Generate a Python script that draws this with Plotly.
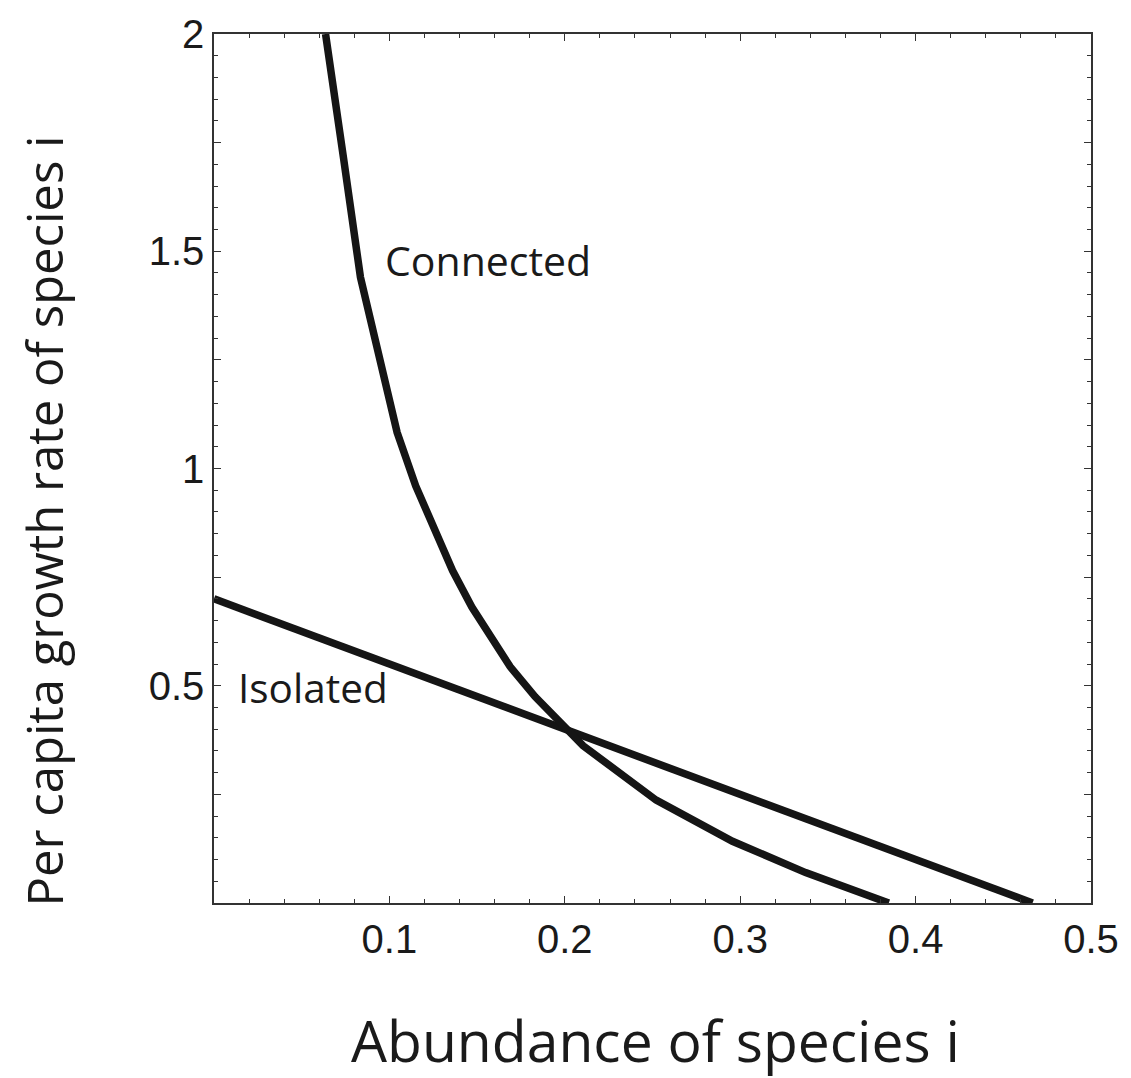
import plotly.graph_objects as go

# Data
isolated_x = [0.0, 0.4667]
isolated_y = [0.7, 0.0]

connected_x = [0.0636, 0.0705, 0.0740, 0.0835, 0.0939, 0.1044, 0.1150, 0.1252,
               0.1360, 0.1470, 0.1580, 0.1688, 0.1830, 0.1970, 0.2104, 0.2521,
               0.2956, 0.3373, 0.3847]
connected_y = [2.0, 1.79, 1.71, 1.44, 1.257, 1.083, 0.96, 0.863,
               0.765, 0.681, 0.61, 0.544, 0.475, 0.415, 0.362, 0.2367,
               0.142, 0.070, 0.0]

x_tickvals = [0, 0.1, 0.2, 0.3, 0.4, 0.5]
x_ticktext = ["", "0.1", "0.2", "0.3", "0.4", "0.5"]
y_tickvals = [0, 0.25, 0.5, 0.75, 1.0, 1.25, 1.5, 1.75, 2.0]
y_ticktext = ["", "", "0.5", "", "1", "", "1.5", "", "2"]

line_color = "#151515"
frame_color = "#333333"
tick_font = dict(family="Liberation Sans, Arial, sans-serif", size=40, color="#1a1a1a")
text_font = "Open Sans, Noto Sans, sans-serif"

fig = go.Figure()
fig.add_trace(go.Scatter(x=isolated_x, y=isolated_y, mode="lines",
                         line=dict(color=line_color, width=7.5), showlegend=False))
fig.add_trace(go.Scatter(x=connected_x, y=connected_y, mode="lines",
                         line=dict(color=line_color, width=7.5), showlegend=False))

fig.add_annotation(x=0.0961, y=1.48, text="Connected", showarrow=False,
                   xanchor="left", yanchor="middle",
                   font=dict(family=text_font, size=41, color="#1a1a1a"))
fig.add_annotation(x=0.0125, y=0.497, text="Isolated", showarrow=False,
                   xanchor="left", yanchor="middle",
                   font=dict(family=text_font, size=40.5, color="#1a1a1a"))

fig.add_annotation(xref="paper", yref="paper", x=0.503, y=-0.158,
                   text="Abundance of species i", showarrow=False,
                   xanchor="center", yanchor="middle",
                   font=dict(family=text_font, size=57, color="#1a1a1a"))
fig.add_annotation(xref="paper", yref="paper", x=-0.194, y=0.44,
                   text="Per capita growth rate of species i", showarrow=False,
                   textangle=-90, xanchor="center", yanchor="middle",
                   font=dict(family=text_font, size=49, color="#1a1a1a"))

axis_common = dict(showgrid=False, zeroline=False, showline=True,
                   linecolor=frame_color, linewidth=1.5, mirror="allticks",
                   ticks="inside", ticklen=7, tickwidth=1.2, tickcolor=frame_color,
                   tickfont=tick_font, tickmode="array")

fig.update_xaxes(range=[0, 0.5], tickvals=x_tickvals, ticktext=x_ticktext,
                 minor=dict(ticks="inside", dtick=0.02, tick0=0, ticklen=4,
                            tickwidth=1, tickcolor=frame_color, showgrid=False),
                 **axis_common)
fig.update_yaxes(range=[0, 2], tickvals=y_tickvals, ticktext=y_ticktext,
                 minor=dict(ticks="inside", dtick=0.05, tick0=0, ticklen=4,
                            tickwidth=1, tickcolor=frame_color, showgrid=False),
                 **axis_common)

fig.update_layout(width=1131, height=1078,
                  margin=dict(l=214, r=38, t=24, b=175),
                  plot_bgcolor="white", paper_bgcolor="white")

fig.write_html("out.html")
